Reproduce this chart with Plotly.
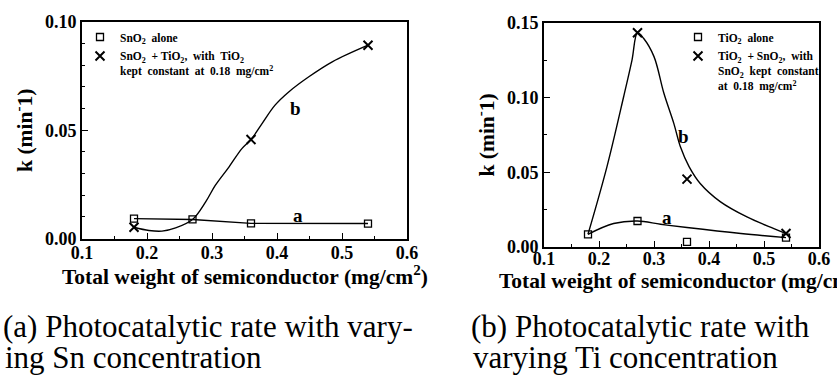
import plotly.graph_objects as go

# ---------------- data ----------------
# (a) varying Sn concentration
sn_x = [0.18, 0.27, 0.36, 0.54]
sn_alone_k = [0.0092, 0.0088, 0.0070, 0.0069]
sn_mix_x = [0.18, 0.36, 0.54]
sn_mix_k = [0.0052, 0.0457, 0.0893]
# smooth fit curve b (knots)
sn_fit_x = [0.18, 0.203, 0.223, 0.244, 0.27, 0.29, 0.305, 0.326, 0.346, 0.36,
            0.377, 0.397, 0.418, 0.449, 0.485, 0.54]
sn_fit_k = [0.0052, 0.0037, 0.0034, 0.0049, 0.0088, 0.0168, 0.0245, 0.033, 0.0415, 0.0457,
            0.0531, 0.0616, 0.0677, 0.0747, 0.0816, 0.0893]

# (b) varying Ti concentration
ti_x = [0.18, 0.27, 0.36, 0.54]
ti_alone_k = [0.0085, 0.0174, 0.0034, 0.0063]
ti_mix_x = [0.27, 0.36, 0.54]
ti_mix_k = [0.1433, 0.0454, 0.009]
ti_fit_a_x = [0.18, 0.2265, 0.27, 0.312, 0.36, 0.458, 0.54]
ti_fit_a_k = [0.0085, 0.0157, 0.0174, 0.0152, 0.013, 0.009, 0.0063]
ti_fit_b_x = [0.18, 0.2144, 0.2448, 0.26, 0.27, 0.281, 0.30, 0.318, 0.336, 0.348,
              0.364, 0.384, 0.421, 0.469, 0.518, 0.54]
ti_fit_b_k = [0.0085, 0.0536, 0.1005, 0.125, 0.1433, 0.1396, 0.1273, 0.1028, 0.0827, 0.067,
              0.0536, 0.0425, 0.0302, 0.0201, 0.0123, 0.009]

x_ticks = [0.1, 0.2, 0.3, 0.4, 0.5, 0.6]
x_title = "Total weight of semiconductor (mg/cm<sup>2</sup>)"
y_title = "k (min<sup>-</sup>1)"
captions_a = ["(a) Photocatalytic rate with vary-", "ing Sn concentration"]
captions_b = ["(b) Photocatalytic rate with", "varying Ti concentration"]

SERIF = "Liberation Serif"
W, H = 837, 378

fig = go.Figure()

def curve(x, y, xa, ya, shape="spline"):
    fig.add_trace(go.Scatter(x=x, y=y, mode="lines", xaxis=xa, yaxis=ya,
                             line=dict(color="black", width=1.4, shape=shape, smoothing=1.0),
                             showlegend=False, hoverinfo="skip"))

curve(sn_x, sn_alone_k, "x", "y", "linear")
curve(sn_fit_x, sn_fit_k, "x", "y")
curve(ti_fit_a_x, ti_fit_a_k, "x2", "y2")
curve(ti_fit_b_x, ti_fit_b_k, "x2", "y2")

sq = dict(symbol="square-open", size=7, color="black", line=dict(width=1.3, color="black"))
xx = dict(symbol="x-thin-open", size=9, color="black", line=dict(width=2, color="black"))

fig.add_trace(go.Scatter(x=sn_x, y=sn_alone_k, mode="markers", marker=sq, xaxis="x", yaxis="y",
                         name="SnO<sub>2</sub>  alone", legend="legend"))
fig.add_trace(go.Scatter(x=sn_mix_x, y=sn_mix_k, mode="markers", marker=xx, xaxis="x", yaxis="y",
                         name="SnO<sub>2</sub>  + TiO<sub>2</sub>,  with  TiO<sub>2</sub><br>kept  constant  at  0.18  mg/cm<sup>2</sup>",
                         legend="legend"))
fig.add_trace(go.Scatter(x=ti_x, y=ti_alone_k, mode="markers", marker=sq, xaxis="x2", yaxis="y2",
                         name="TiO<sub>2</sub>  alone", legend="legend2"))
fig.add_trace(go.Scatter(x=ti_mix_x, y=ti_mix_k, mode="markers", marker=xx, xaxis="x2", yaxis="y2",
                         name="TiO<sub>2</sub>  + SnO<sub>2</sub>,  with<br>SnO<sub>2</sub>  kept  constant<br>at  0.18  mg/cm<sup>2</sup>",
                         legend="legend2"))

tickfont = dict(family=SERIF, size=18, color="black", weight="bold")
titlefont = dict(family=SERIF, size=21.5, color="black", weight="bold")

def xaxis(domain, anchor, standoff):
    return dict(domain=domain, anchor=anchor, range=[0.1, 0.6], tickvals=x_ticks, tickformat=".1f",
                ticks="inside", ticklen=6, tickwidth=1.3, tickcolor="black", ticklabelstandoff=standoff,
                minor=dict(dtick=0.05, tick0=0.1, ticks="inside", ticklen=3, tickwidth=1.1, tickcolor="black"),
                showline=True, linewidth=1.6, linecolor="black", mirror=True,
                showgrid=False, zeroline=False, tickfont=tickfont, automargin=False)

def yaxis(domain, anchor, rng, dtick, mdtick):
    return dict(domain=domain, anchor=anchor, range=rng, dtick=dtick, tick0=0, tickformat=".2f",
                ticks="inside", ticklen=6, tickwidth=1.3, tickcolor="black",
                minor=dict(dtick=mdtick, tick0=0, ticks="inside", ticklen=3, tickwidth=1.1, tickcolor="black"),
                showline=True, linewidth=1.6, linecolor="black", mirror=True,
                showgrid=False, zeroline=False, tickfont=tickfont,
                title=dict(text=y_title, font=titlefont, standoff=7),
                automargin=False)

legfont = dict(family=SERIF, size=11.5, color="black", weight="bold")

annotations = []
for txt, x, y, xr, yr in [("b", 0.428, 0.060, "x", "y"), ("a", 0.433, 0.0106, "x", "y"),
                          ("b", 0.354, 0.0737, "x2", "y2"), ("a", 0.323, 0.020, "x2", "y2")]:
    annotations.append(dict(text=txt, x=x, y=y, xref=xr, yref=yr, showarrow=False,
                            font=dict(family=SERIF, size=19, color="black", weight="bold")))

# x-axis titles (centred under each plot)
for xr, ypx in [("x domain", 275), ("x2 domain", 279)]:
    annotations.append(dict(text=x_title, x=0.5, y=1 - ypx / H, xref=xr, yref="paper",
                            xanchor="center", yanchor="middle", showarrow=False, font=titlefont))

capfont = dict(family=SERIF, size=31, color="black")
for caps, x0 in [(captions_a, 1 / W), (captions_b, 469 / W)]:
    for i, c in enumerate(caps):
        annotations.append(dict(text=c, x=x0 + (2 / W if i else 0), y=[1 - 326 / H, 1 - 357 / H][i],
                                xref="paper", yref="paper", xanchor="left", yanchor="middle",
                                showarrow=False, font=capfont))

fig.update_layout(
    width=W, height=H, margin=dict(l=0, r=0, t=0, b=0),
    paper_bgcolor="white", plot_bgcolor="white",
    xaxis=xaxis([82 / W, 407 / W], "y", -3),
    yaxis=yaxis([1 - 238.5 / H, 1 - 22 / H], "x", [0, 0.1], 0.05, 0.01),
    xaxis2=xaxis([544 / W, 819 / W], "y2", -5),
    yaxis2=yaxis([1 - 247 / H, 1 - 22.7 / H], "x2", [0, 0.15], 0.05, 0.025),
    legend=dict(x=80 / W, y=1 - 23 / H, xanchor="left", yanchor="top", font=legfont, valign="top",
                bgcolor="rgba(0,0,0,0)", borderwidth=0, tracegroupgap=0),
    legend2=dict(x=678 / W, y=1 - 23 / H, xanchor="left", yanchor="top", font=legfont, valign="top",
                 bgcolor="rgba(0,0,0,0)", borderwidth=0, tracegroupgap=0),
    annotations=annotations,
    showlegend=True,
)

# the page's default 8px body margin would shift the figure; remove it
fig.write_html("out.html", config={"displayModeBar": False},
               post_script="document.body.style.margin='0';")
